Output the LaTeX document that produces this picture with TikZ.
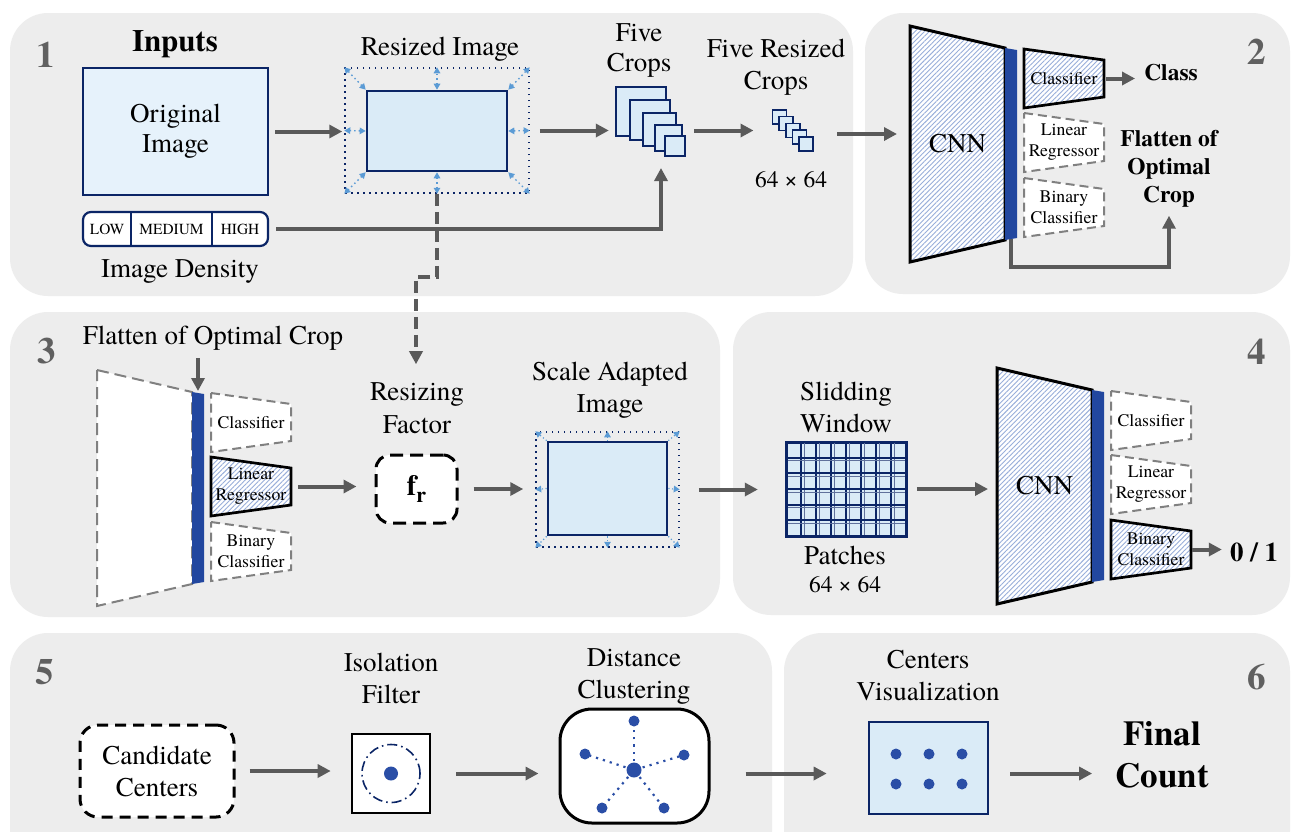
\documentclass[tikz,border=0pt]{standalone}
\usepackage{fontspec}
\setmainfont{texgyretermes}[Extension=.otf, UprightFont=*-regular, BoldFont=*-bold, ItalicFont=*-italic, BoldItalicFont=*-bolditalic]
\usetikzlibrary{arrows.meta,patterns.meta,fit}
\definecolor{panelgray}{HTML}{EDEDED}
\definecolor{navy}{HTML}{0B2566}
\definecolor{lbA}{HTML}{E6F2FB}
\definecolor{lbB}{HTML}{DAEBF7}
\definecolor{barblue}{HTML}{22479F}
\definecolor{arrgray}{HTML}{5A5A5A}
\definecolor{dashgray}{HTML}{808080}
\definecolor{dotblue}{HTML}{5B9BD5}
\definecolor{dotnavy}{HTML}{2A4EA6}
\definecolor{numgray}{HTML}{606060}
\definecolor{hatchblue}{HTML}{98AEDA}

\newcommand{\cnnshape}[4]{%
  \draw[#3] (#1,#2) -- (#1+95,#2+22) -- (#1+95,#2+214) -- (#1,#2+236) -- cycle;
  \fill[barblue] (#1+95,#2+22) -- (#1+107,#2+24) -- (#1+107,#2+212) -- (#1+95,#2+214) -- cycle;
  \coordinate (#4top) at (#1+101,#2+23);
  \coordinate (#4bot) at (#1+101,#2+213);
  \coordinate (#4mid) at (#1+47.5,#2+118);
  \coordinate (#4left) at (#1,#2+118);
}
\newcommand{\headtrap}[5]{%
  \draw[#3] (#1,#2) -- (#1+80,#2+11) -- (#1+80,#2+48) -- (#1,#2+59) -- cycle;
  \node[headtxt] (#4) at (#1+40,#2+29.5) {#5};
  \coordinate (#4r) at (#1+80,#2+29.5);
}

\begin{document}
\begin{tikzpicture}[x=1pt,y=-1pt,
  panel/.style={fill=panelgray, rounded corners=38pt},
  num/.style={font=\fontsize{37}{40}\selectfont\bfseries, text=numgray, inner sep=0},
  lbl/.style={font=\fontsize{27}{32}\selectfont, align=center, inner sep=0},
  blbl/.style={font=\fontsize{23.5}{28}\selectfont\bfseries, align=center, inner sep=0},
  dimlbl/.style={font=\fontsize{23.5}{28}\selectfont, inner sep=0},
  headtxt/.style={font=\fontsize{17.7}{21}\selectfont, align=center, inner sep=0},
  dtxt/.style={font=\fontsize{15.4}{18}\selectfont, inner sep=0},
  arr/.style={draw=arrgray, line width=4pt, -{Triangle[length=13pt,width=13pt]}},
  dasharr/.style={arr, dash pattern=on 12pt off 6pt},
  imgA/.style={draw=navy, line width=2.6pt, fill=lbA, inner sep=0},
  imgB/.style={draw=navy, line width=2.6pt, fill=lbB, inner sep=0},
  dotframe/.style={draw=navy, line width=1.5pt, dash pattern=on 1.5pt off 4.5pt, inner sep=0},
  bluedotA/.style={draw=dotblue, line width=1.4pt, dash pattern=on 1.5pt off 3pt, {Triangle[length=6pt,width=6.5pt]}-{Triangle[length=6pt,width=6.5pt]}},
  bluedotB/.style={draw=dotblue, line width=1.2pt, dash pattern=on 1.2pt off 2.5pt, -{Triangle[length=6pt,width=6.5pt]}},
  cropbox/.style={draw=navy, line width=2pt, fill=lbB, inner sep=0, anchor=north west},
  hatchfill/.style={preaction={fill=white}, pattern={Lines[angle=45,distance=3.4pt,line width=0.9pt]}, pattern color=hatchblue},
  cnnsolid/.style={draw=black, line width=3pt, hatchfill},
  cnndash/.style={draw=dashgray, line width=2pt, dash pattern=on 12pt off 6pt, fill=white},
  headsolid/.style={draw=black, line width=2.7pt, hatchfill},
  headdash/.style={draw=dashgray, line width=2pt, dash pattern=on 9pt off 5pt, fill=white},
  bigdot/.style={fill=dotnavy},
]
\useasboundingbox (0,0) rectangle (1292,831);
\fill[white] (0,0) rectangle (1292,831);

\begin{scope}
\clip (0,0) rectangle (1292,831);
\fill[panel] (10,13) rectangle (853,296);
\fill[panel] (865,13) rectangle (1290,294);
\fill[panel] (10,312) rectangle (720,617);
\fill[panel] (733,312) rectangle (1290,615);
\fill[panel] (10,633) rectangle (772,880);
\fill[panel] (784,633) rectangle (1290,880);
\end{scope}

% panel numbers
\node[num] (n1) at (46,54.5) {1};
\node[num] (n2) at (1257,51.5) {2};
\node[num] (n3) at (47,351) {3};
\node[num] (n4) at (1257,352) {4};
\node[num] (n5) at (45,672) {5};
\node[num] (n6) at (1257,677) {6};

% ---------- panel 1 ----------
\node[font=\fontsize{31}{34}\selectfont\bfseries, inner sep=0] (inputs) at (175,44) {Inputs};
\node[imgA, minimum width=185pt, minimum height=127pt, align=center, font=\fontsize{27}{30}\selectfont] (orig) at (175.5,131.5) {Original\\Image};
\node[draw=navy, line width=2.2pt, fill=white, rounded corners=8pt, minimum width=185pt, minimum height=34pt, inner sep=0] (dens) at (175.5,229) {};
\draw[navy, line width=2.2pt] (131,212) -- (131,246);
\draw[navy, line width=2.2pt] (212,212) -- (212,246);
\node[dtxt] (dlow) at (107,229.5) {LOW};
\node[dtxt] (dmed) at (171.5,229.5) {MEDIUM};
\node[dtxt] (dhigh) at (240,229.5) {HIGH};
\node[lbl] (dlbl) at (180,271) {Image Density};

\node[lbl] (rlbl) at (440,49) {Resized Image};
\node[dotframe, minimum width=184pt, minimum height=125pt] (rszo) at (437,130.5) {};
\node[imgB, minimum width=140pt, minimum height=80pt] (rszi) at (437,131) {};
\foreach \a in {north west,north,north east,east,south east,south,south west,west}
  \draw[bluedotA] (rszi.\a) -- (rszo.\a);

\node[lbl, font=\fontsize{27}{30}\selectfont] (fclbl) at (639,50) {Five\\Crops};
\node[cropbox, minimum width=50pt, minimum height=49pt] (fc1) at (615,86) {};
\node[cropbox, minimum width=40pt, minimum height=40pt] (fc2) at (629,98.5) {};
\node[cropbox, minimum width=33pt, minimum height=33pt] (fc3) at (642,112) {};
\node[cropbox, minimum width=27pt, minimum height=26pt] (fc4) at (653.5,124) {};
\node[cropbox, minimum width=20pt, minimum height=20pt] (fc5) at (664,135) {};
\node[fit=(fc1)(fc5), inner sep=0] (fcg) {};
\coordinate (fcin) at (661,155);

\node[lbl] (srlbl) at (776,67.5) {Five Resized\\Crops};
\foreach \i in {0,...,4}
  \node[cropbox, line width=1.6pt, minimum width=14pt, minimum height=14pt] (sc\i) at (771.7+6.65*\i,109+6.8*\i) {};
\node[fit=(sc0)(sc4), inner sep=0] (scg) {};
\node[dimlbl] (sdim) at (791,180) {64 × 64};

\draw[arr, shorten <=6pt, shorten >=2pt] (orig.east) -- (orig.east -| rszo.west);
\draw[arr, shorten <=10pt, shorten >=6pt] (rszo.east) -- (rszo.east -| fcg.west);
\draw[arr, shorten <=8pt, shorten >=18pt] (fcg.east |- rszo.east) -- (rszo.east -| scg.west);
\coordinate (dturn) at (661,229);
\draw[arr, shorten >=13pt] ([xshift=7pt]dens.east) -- (dturn) -- (fcin);

% ---------- panel 2 ----------
\coordinate (p1out) at (837,134);
\cnnshape{910}{26}{cnnsolid}{p2}
\node[lbl] (cnn2) at (p2mid) {CNN};
\headtrap{1024}{49}{headsolid}{p2cls}{Classifier}
\headtrap{1024}{113}{headdash}{p2lin}{Linear\\Regressor}
\headtrap{1024}{178}{headdash}{p2bin}{Binary\\Classifier}
\draw[arr, shorten >=13pt] (p1out) -- (p1out -| p2left);
\node[blbl] (cls) at (1171,73) {Class};
\draw[arr, shorten <=2pt, shorten >=9pt] (p2clsr) -- (p2clsr -| cls.west);
\node[blbl] (flat2) at (1169,169) {Flatten of\\Optimal\\Crop};
\coordinate (p2turn) at (1011,267);
\draw[arr, shorten >=8pt] (p2bot) -- (p2turn) -| (flat2.south);

% ---------- panel 3 ----------
\node[lbl] (flat3) at (213,338) {Flatten of Optimal Crop};
\cnnshape{97}{370}{cnndash}{p3}
\headtrap{211}{393}{headdash}{p3cls}{Classifier}
\headtrap{211}{457}{headsolid}{p3lin}{Linear\\Regressor}
\headtrap{211}{522}{headdash}{p3bin}{Binary\\Classifier}
\draw[arr, shorten <=8pt, shorten >=2pt] (flat3.south -| p3top) -- (p3top);

\node[lbl, font=\fontsize{27}{33}\selectfont] (rf) at (417,408) {Resizing\\Factor};
\node[draw=black, line width=3pt, dash pattern=on 13pt off 7pt, fill=white, rounded corners=14pt, minimum width=81pt, minimum height=68pt, inner sep=0, font=\fontsize{29}{30}\selectfont\bfseries] (fr) at (416.5,489) {f\raisebox{-7pt}{\fontsize{22}{22}\selectfont r}};
\coordinate (dk1) at (437,277);
\coordinate (dk2) at (416,277);
\draw[dasharr, shorten >=18pt] (rszo.south) -- (dk1) -- (dk2) -- (dk2 |- rf.north);

\draw[arr, shorten <=7pt, shorten >=18pt] (p3linr) -- (p3linr -| fr.west);
\node[lbl] (salbl) at (610,390) {Scale Adapted\\Image};
\node[dotframe, minimum width=143pt, minimum height=115pt] (sao) at (607.5,489.5) {};
\node[imgB, minimum width=119pt, minimum height=93pt] (sai) at (607.5,488.5) {};
\foreach \a in {north west,north,north east,east,south east,south,south west,west}
  \draw[bluedotB] (sai.\a) -- (sao.\a);
\draw[arr, shorten <=15pt, shorten >=12pt] (fr.east) -- (fr.east -| sao.west);

% ---------- panel 4 ----------
\node[lbl] (swlbl) at (846,407) {Slidding\\Window};
\node[draw=navy, line width=3pt, fill=lbB, minimum width=120pt, minimum height=94pt, inner sep=0] (grid) at (846.3,489) {};
\foreach \i in {1,...,7} {
  \draw[navy, line width=1.8pt] (786.3+15*\i,443) -- (786.3+15*\i,535);
  \draw[navy!65, line width=1pt] (789.3+15*\i,443) -- (789.3+15*\i,535);
}
\foreach \j in {1,...,5} {
  \draw[navy, line width=1.8pt] (787.5,442+15.67*\j) -- (905,442+15.67*\j);
  \draw[navy!65, line width=1pt] (787.5,445+15.67*\j) -- (905,445+15.67*\j);
}
\node[lbl] (patch) at (845,555) {Patches};
\node[dimlbl] (pdim) at (845,585) {64 × 64};
\draw[arr, shorten <=19pt, shorten >=27pt] (sao.east) -- (sao.east -| grid.west);

\cnnshape{997}{368}{cnnsolid}{p4}
\node[lbl] (cnn4) at (p4mid) {CNN};
\headtrap{1111}{391}{headdash}{p4cls}{Classifier}
\headtrap{1111}{455}{headdash}{p4lin}{Linear\\Regressor}
\headtrap{1111}{520}{headsolid}{p4bin}{Binary\\Classifier}
\draw[arr, shorten <=9pt, shorten >=9pt] (grid.east) -- (grid.east -| p4left);
\node[font=\fontsize{27}{30}\selectfont\bfseries, inner sep=0] (zo) at (1254,552) {0 / 1};
\draw[arr, shorten <=1pt, shorten >=8pt] (p4binr) -- (p4binr -| zo.west);

% ---------- panel 5 ----------
\node[draw=black, line width=3pt, dash pattern=on 11pt off 7pt, fill=white, rounded corners=18pt, minimum width=154pt, minimum height=92pt, inner sep=0, align=center, font=\fontsize{27}{32}\selectfont] (cand) at (157,771) {Candidate\\Centers};

\node[lbl] (isol) at (391,678) {Isolation\\Filter};
\node[draw=black, line width=2.6pt, fill=white, minimum width=78pt, minimum height=79pt, inner sep=0] (isob) at (391,773.5) {};
\draw[navy, line width=1.6pt, dash pattern=on 10pt off 4pt on 1.6pt off 4pt] (isob.center) circle (29pt);
\fill[bigdot] (isob.center) circle (7pt);

\node[lbl] (dclbl) at (634,676) {Distance\\Clustering};
\node[draw=black, line width=3pt, fill=white, rounded corners=32pt, minimum width=149pt, minimum height=114pt, inner sep=0] (dcb) at (634.5,766) {};
\coordinate (dc0) at (634,770);
\coordinate (dc1) at (634,721);
\coordinate (dc2) at (585,754);
\coordinate (dc3) at (684,755);
\coordinate (dc4) at (602,808);
\coordinate (dc5) at (664,808);
\foreach \k in {1,...,5} {
  \draw[dotnavy, line width=2.2pt, dash pattern=on 2.2pt off 5pt, shorten <=9pt] (dc0) -- (dc\k);
  \fill[bigdot] (dc\k) circle (5.5pt);
}
\fill[bigdot] (dc0) circle (7.5pt);

\draw[arr, shorten <=14pt, shorten >=20pt] (cand.east) -- (cand.east -| isob.west);
\draw[arr, shorten <=25pt, shorten >=20pt] (isob.east) -- (isob.east -| dcb.west);

% ---------- panel 6 ----------
\node[lbl] (cvlbl) at (928,676) {Centers\\Visualization};
\node[imgB, minimum width=119pt, minimum height=92pt] (cvb) at (928.5,768) {};
\foreach \xx in {896,929,962} \foreach \yy in {754,784}
  \fill[bigdot] (\xx,\yy) circle (5.5pt);
\node[font=\fontsize{35}{42}\selectfont\bfseries, align=center, inner sep=0] (final) at (1162,755) {Final\\Count};

\draw[arr, shorten <=35pt, shorten >=41pt] (dcb.east |- isob.east) -- (isob.east -| cvb.west);
\draw[arr, shorten <=21pt, shorten >=23pt] (cvb.east |- isob.east) -- (isob.east -| final.west);
\end{tikzpicture}
\end{document}
